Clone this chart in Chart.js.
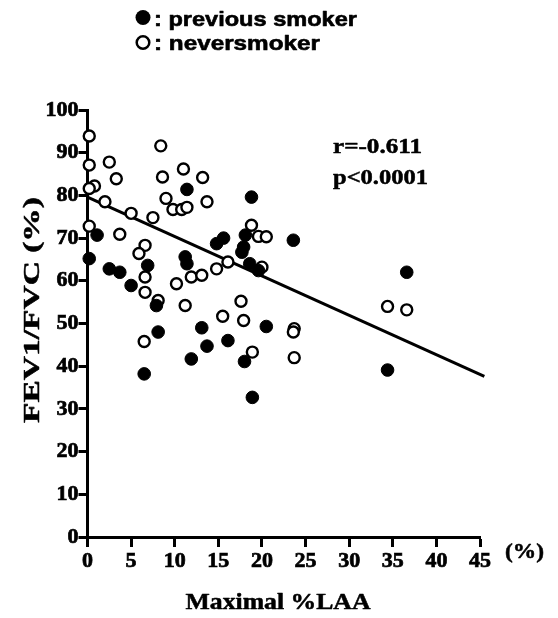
<!DOCTYPE html>
<html>
<head>
<meta charset="utf-8">
<script src="https://cdn.jsdelivr.net/npm/chart.js@4.4.0/dist/chart.umd.min.js"></script>
<style>
html,body{margin:0;padding:0;background:#fff;}
#wrap{width:558px;height:618px;}
</style>
</head>
<body>
<div id="wrap"><canvas id="c" width="558" height="618"></canvas></div>
<script>
// Previous smokers (filled circles): Maximal %LAA, FEV1/FVC (%)
const prevX = [0.2, 1.1, 2.5, 3.7, 5.0, 6.5, 6.9, 7.9, 8.1, 11.2, 11.4, 11.4, 11.9, 13.1, 13.7, 14.8, 15.6, 16.1, 17.7, 17.9, 18.1, 18.0, 18.6, 19.6, 18.8, 18.9, 20.5, 23.6, 34.4, 36.6];
const prevY = [65.2, 70.7, 62.8, 62.0, 58.9, 38.2, 63.6, 54.2, 48.0, 65.6, 64.0, 81.4, 41.7, 49.0, 44.7, 68.7, 70.0, 46.0, 66.7, 67.9, 70.7, 41.1, 64.0, 62.4, 79.6, 32.7, 49.3, 69.5, 39.1, 62.0];
// Never smokers (open circles)
const neverX = [0.2, 0.2, 0.8, 0.2, 2.5, 3.3, 2.0, 5.0, 7.5, 0.2, 3.7, 8.4, 8.6, 11.0, 13.2, 9.0, 9.8, 10.8, 11.4, 13.7, 6.6, 5.9, 6.6, 6.6, 8.1, 6.5, 10.2, 11.9, 13.1, 11.2, 15.5, 14.8, 16.1, 17.6, 17.9, 18.8, 19.6, 20.5, 20.0, 18.9, 23.7, 23.6, 23.7, 34.4, 36.6];
const neverY = [93.9, 87.1, 82.2, 81.6, 87.8, 83.9, 78.5, 75.8, 74.8, 72.8, 70.9, 91.6, 84.3, 86.2, 84.2, 79.3, 76.7, 76.7, 77.2, 78.5, 68.3, 66.4, 60.9, 57.3, 55.4, 45.8, 59.3, 60.9, 61.3, 54.2, 51.7, 62.8, 64.4, 55.2, 50.7, 73.0, 70.4, 70.3, 63.2, 43.3, 48.8, 48.0, 42.0, 54.0, 53.2];
// Regression line end points
const lineX = [0, 45.5];
const lineY = [79.6, 37.6];
// Axis ticks
const xTicks = [0, 5, 10, 15, 20, 25, 30, 35, 40, 45];
const yTicks = [0, 10, 20, 30, 40, 50, 60, 70, 80, 90, 100];
// Texts
const legendLabels = [': previous smoker', ': neversmoker'];
const statLines = ['r=-0.611', 'p<0.0001'];
const xTitle = 'Maximal %LAA';
const yTitle = 'FEV1/FVC (%)';
const xUnit = '(%)';

const toPts = (xs, ys) => xs.map((x, i) => ({x: x, y: ys[i]}));

const SERIF = '"Liberation Serif", "DejaVu Serif", serif';
const SANS = '"Liberation Sans", Arial, sans-serif';

// draw text with a given font size, stretched along its direction to a target width
function stretchText(ctx, text, family, size, width, x, y, align, stroke) {
  ctx.font = 'bold ' + size + 'px ' + family;
  const w = ctx.measureText(text).width;
  const sx = width / w;
  ctx.save();
  ctx.translate(x, y);
  ctx.scale(sx, 1);
  ctx.textAlign = align;
  ctx.fillText(text, 0, 0);
  if (stroke) { ctx.lineWidth = stroke; ctx.strokeText(text, 0, 0); }
  ctx.restore();
}

const textPlugin = {
  id: 'texts',
  afterDraw(chart) {
    const ctx = chart.ctx;
    ctx.save();
    ctx.fillStyle = '#000';
    ctx.strokeStyle = '#000';
    ctx.textBaseline = 'alphabetic';
    ctx.lineJoin = 'round';
    // legend
    ctx.beginPath(); ctx.arc(143, 17.5, 7.5, 0, Math.PI * 2); ctx.fill();
    ctx.lineWidth = 2.5;
    ctx.beginPath(); ctx.arc(143, 42.5, 6.3, 0, Math.PI * 2); ctx.stroke();
    stretchText(ctx, legendLabels[0], SANS, 20, 203, 154, 26, 'left', 0.6);
    stretchText(ctx, legendLabels[1], SANS, 20, 166, 154, 50, 'left', 0.6);
    // stats
    stretchText(ctx, statLines[0], SERIF, 21, 89, 333, 153, 'left', 0.5);
    stretchText(ctx, statLines[1], SERIF, 21, 95, 333, 184, 'left', 0.5);
    // x unit
    stretchText(ctx, xUnit, SERIF, 22, 39, 505, 558, 'left', 0.5);
    // x title
    stretchText(ctx, xTitle, SERIF, 23, 185, 278, 609, 'center', 0.5);
    // y title
    ctx.save();
    ctx.translate(39, 310);
    ctx.rotate(-Math.PI / 2);
    stretchText(ctx, yTitle, SERIF, 23, 226, 0, 0, 'center', 0.5);
    ctx.restore();
    ctx.restore();
  }
};

new Chart(document.getElementById('c'), {
  type: 'scatter',
  data: {
    datasets: [
      {
        label: 'regression',
        type: 'line',
        data: toPts(lineX, lineY),
        borderColor: '#000',
        borderWidth: 3,
        pointRadius: 0,
        fill: false,
        clip: false,
        order: 3
      },
      {
        label: 'neversmoker',
        data: toPts(neverX, neverY),
        pointRadius: 5.5,
        pointBorderWidth: 2.4,
        pointBackgroundColor: '#fff',
        pointBorderColor: '#000',
        clip: false,
        order: 2
      },
      {
        label: 'previous smoker',
        data: toPts(prevX, prevY),
        pointRadius: 6.3,
        pointBorderWidth: 1,
        pointBackgroundColor: '#000',
        pointBorderColor: '#000',
        clip: false,
        order: 1
      }
    ]
  },
  options: {
    responsive: false,
    animation: false,
    devicePixelRatio: 1,
    layout: {padding: {left: 0, top: 110, right: 78, bottom: 0}},
    plugins: {legend: {display: false}, tooltip: {enabled: false}},
    scales: {
      x: {
        type: 'linear', min: 0, max: 45,
        afterBuildTicks: (s) => { s.ticks = xTicks.map(v => ({value: v})); },
        afterFit: (s) => { s.height = 81; },
        ticks: {color: '#000', font: {family: SERIF, size: 22, weight: 'bold'}, textStrokeColor: '#000', textStrokeWidth: 0.7, padding: 1, maxRotation: 0, autoSkip: false},
        grid: {drawOnChartArea: false, drawTicks: true, tickLength: 10, tickColor: '#000', tickWidth: 3},
        border: {display: true, color: '#000', width: 3}
      },
      y: {
        type: 'linear', min: 0, max: 100,
        afterBuildTicks: (s) => { s.ticks = yTicks.map(v => ({value: v})); },
        afterFit: (s) => { s.width = 87.5; },
        ticks: {color: '#000', font: {family: SERIF, size: 22, weight: 'bold'}, textStrokeColor: '#000', textStrokeWidth: 0.7, padding: 0, autoSkip: false},
        grid: {drawOnChartArea: false, drawTicks: true, tickLength: 9, tickColor: '#000', tickWidth: 3},
        border: {display: true, color: '#000', width: 3}
      }
    }
  },
  plugins: [textPlugin]
});
</script>
</body>
</html>
